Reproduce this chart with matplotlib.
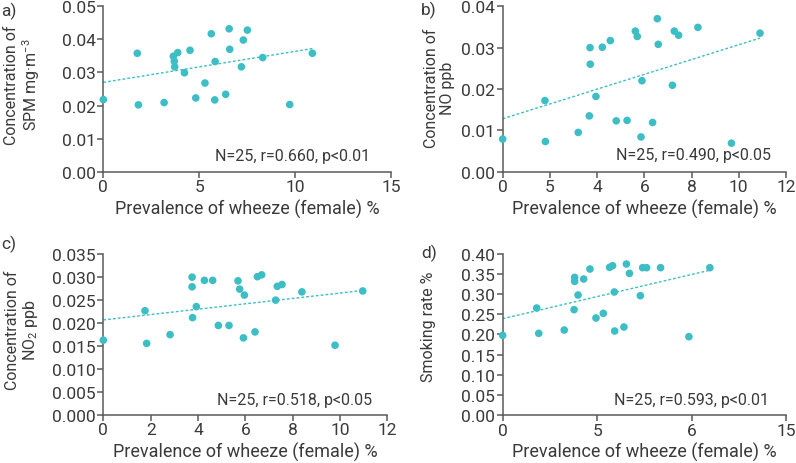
import numpy as np
import matplotlib
matplotlib.use("Agg")
import matplotlib.pyplot as plt

plt.rcParams['font.family'] = ['Roboto', 'DejaVu Sans']
plt.rcParams['mathtext.fontset'] = 'custom'
plt.rcParams['mathtext.rm'] = 'Roboto'
plt.rcParams['mathtext.it'] = 'Roboto'

TEAL = '#3cbec4'
TEXT = '#3a3a3a'
AXIS = '#5a5a5a'

# panel a: SPM
xa = [0, 1.77, 1.83, 3.17, 3.65, 3.70, 3.72, 3.88, 4.23, 4.52, 4.82, 5.30, 5.63,
      5.83, 5.81, 6.38, 6.56, 6.59, 7.20, 7.30, 7.51, 8.31, 9.72, 10.90]
ya = [0.0218, 0.0358, 0.0202, 0.0209, 0.0349, 0.0334, 0.0317, 0.0360, 0.0299, 0.0367,
      0.0223, 0.0268, 0.0417, 0.0333, 0.0217, 0.0234, 0.0432, 0.0370, 0.0317, 0.0398,
      0.0428, 0.0345, 0.0203, 0.0358]
fit_a = [0.0270, 0.000937]

# panel b: NO
xb = [0, 1.79, 1.81, 3.20, 3.67, 3.70, 3.71, 3.95, 4.22, 4.56, 4.81, 5.27, 5.62,
      5.70, 5.90, 5.86, 6.35, 6.55, 6.59, 7.19, 7.27, 7.45, 8.27, 9.69, 10.90]
yb = [0.0079, 0.0172, 0.0073, 0.0095, 0.0135, 0.0300, 0.0260, 0.0182, 0.0301, 0.0317,
      0.0123, 0.0124, 0.0340, 0.0327, 0.0220, 0.0084, 0.0119, 0.0370, 0.0308, 0.0209,
      0.0340, 0.0330, 0.0349, 0.0069, 0.0335]
fit_b = [0.0128, 0.00179]

# panel c: NO2
xc = [0, 1.76, 1.83, 2.82, 3.75, 3.75, 3.77, 3.93, 4.27, 4.62, 4.86, 5.31, 5.69,
      5.76, 5.96, 5.92, 6.41, 6.51, 6.69, 7.28, 7.35, 7.55, 8.39, 9.79, 10.96]
yc = [0.0162, 0.0226, 0.0155, 0.0174, 0.0299, 0.0278, 0.0211, 0.0235, 0.0292, 0.0292,
      0.0194, 0.0194, 0.0291, 0.0273, 0.0260, 0.0167, 0.0180, 0.0300, 0.0304, 0.0249,
      0.0279, 0.0283, 0.0267, 0.0151, 0.0269]
fit_c = [0.0206, 0.000584]

# panel d: smoking rate
xd = [0, 1.80, 1.91, 3.26, 3.78, 3.81, 3.81, 3.99, 4.29, 4.62, 4.94, 5.33, 5.66,
      5.82, 5.91, 5.93, 6.42, 6.55, 6.71, 7.29, 7.41, 7.62, 8.36, 9.86, 10.97]
yd = [0.1975, 0.2653, 0.2025, 0.2107, 0.2612, 0.3413, 0.3314, 0.2975, 0.3372, 0.3620,
      0.2405, 0.2521, 0.3661, 0.3702, 0.3050, 0.2083, 0.2182, 0.3744, 0.3512, 0.2959,
      0.3653, 0.3653, 0.3653, 0.1942, 0.3653]
fit_d = [0.2388, 0.01096]

xlabel = 'Prevalence of wheeze (female) %'

panels = [
    dict(tag='a)', x=xa, y=ya, fit=fit_a, rect=[0.1298, 0.6278, 0.3614, 0.3565],
         xlim=15, xticks=[0, 5, 10, 15], xtl=['0', '5', '10', '15'],
         ylim=0.05, ystep=0.01, yfmt='{:.2f}',
         ylabel='Concentration of\nSPM mg·m$^{-3}$', ylx=-0.212, yly=0.53,
         note='N=25, r=0.660, p<0.01', nx=0.927, ny=0.097, tagpos=(0.002, 0.976)),
    dict(tag='b)', x=xb, y=yb, fit=fit_b, rect=[0.6315, 0.6278, 0.3559, 0.3565],
         xlim=12, xticks=[0, 2, 4, 6, 8, 10, 12], xtl=['0', '5', '4', '6', '8', '10', '12'],
         ylim=0.04, ystep=0.01, yfmt='{:.2f}',
         ylabel='Concentration of\nNO ppb', ylx=-0.168, yly=0.512,
         note='N=25, r=0.490, p<0.05', nx=0.947, ny=0.103, tagpos=(0.529, 0.978)),
    dict(tag='c)', x=xc, y=yc, fit=fit_c, rect=[0.1298, 0.1041, 0.3568, 0.3470],
         xlim=12, xticks=[0, 2, 4, 6, 8, 10, 12], xtl=['0', '2', '4', '6', '8', '10', '12'],
         ylim=0.035, ystep=0.005, yfmt='{:.3f}',
         ylabel='Concentration of\nNO$_2$ ppb', ylx=-0.222, yly=0.53,
         note='N=25, r=0.518, p<0.05', nx=0.945, ny=0.096, tagpos=(0.002, 0.474)),
    dict(tag='d)', x=xd, y=yd, fit=fit_d, rect=[0.6315, 0.1034, 0.3559, 0.3477],
         xlim=15, xticks=[0, 5, 10, 15], xtl=['0', '5', '6', '15'],
         ylim=0.40, ystep=0.05, yfmt='{:.2f}',
         ylabel='Smoking rate %', ylx=-0.235, yly=0.552,
         note='N=25, r=0.593, p<0.01', nx=0.939, ny=0.097, tagpos=(0.529, 0.455)),
]

fig = plt.figure(figsize=(7.96, 4.64), dpi=100)

for p in panels:
    ax = fig.add_axes(p['rect'])
    ax.scatter(p['x'], p['y'], s=30, color=TEAL, edgecolor='none', zorder=3, clip_on=False)
    x0, x1 = 0, max(p['x'])
    b0, b1 = p['fit']
    ax.plot([x0, x1], [b0, b0 + b1 * x1], color=TEAL, lw=1.0,
            linestyle=(0, (2, 1.5)), zorder=2)
    ax.set_xlim(0, p['xlim'])
    ax.set_ylim(0, p['ylim'])
    ax.set_xticks(p['xticks'])
    ax.set_xticklabels(p['xtl'])
    yt = np.arange(0, p['ylim'] + p['ystep'] / 2, p['ystep'])
    ax.set_yticks(yt)
    ax.set_yticklabels([p['yfmt'].format(v) for v in yt])
    for s in ['top', 'right']:
        ax.spines[s].set_visible(False)
    for s in ['left', 'bottom']:
        ax.spines[s].set_color(AXIS)
        ax.spines[s].set_linewidth(1.1)
    ax.tick_params(direction='out', length=4, width=1.1, color=AXIS,
                   labelcolor=TEXT, labelsize=12.5, pad=1.5)
    ax.set_xlabel(xlabel, fontsize=13, color=TEXT, labelpad=3)
    ax.set_ylabel(p['ylabel'], fontsize=11.5, color=TEXT, linespacing=1.1,
                  multialignment='center')
    ax.yaxis.set_label_coords(p['ylx'], p['yly'])
    ax.text(p['nx'], p['ny'], p['note'], transform=ax.transAxes, ha='right',
            va='center', fontsize=11.5, color=TEXT)
    fig.text(p['tagpos'][0], p['tagpos'][1], p['tag'], fontsize=12.5, color=TEXT,
             ha='left', va='center')

fig.savefig('out.png', dpi=100)
